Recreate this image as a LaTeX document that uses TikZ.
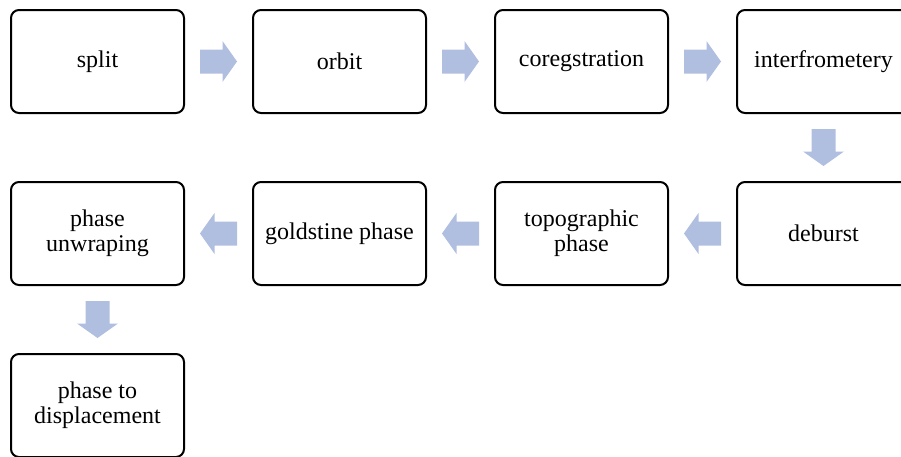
\documentclass[tikz,border=0pt]{standalone}
\usepackage{fontspec}
\setmainfont{Liberation Serif}
\usetikzlibrary{calc}
\definecolor{arrowfill}{RGB}{176,190,224}
\newcommand{\blockarrow}[2]{\fill[arrowfill, shift={#1}, rotate=#2] (-18.5,-12) -- (4,-12) -- (4,-20.5) -- (18.5,0) -- (4,20.5) -- (4,12) -- (-18.5,12) -- cycle;}
\begin{document}
\begin{tikzpicture}[x=0.75pt,y=-0.75pt,
  stepbox/.style={draw=black, line width=1.5pt, rounded corners=6pt, rectangle,
    minimum width=129.75pt, minimum height=77.25pt, inner sep=0pt, align=center,
    font=\fontsize{18}{19}\selectfont}]
\clip (0,0) rectangle (901,457);
\node[stepbox] (b1) at (97.5,61.5) {split};
\node[stepbox] (b2) at (339.5,61.5) {orbit};
\node[stepbox] (b3) at (581.5,61.5) {coregstration};
\node[stepbox] (b4) at (823.5,61.5) {interfrometery};
\node[stepbox] (b5) at (823.5,233.5) {deburst};
\node[stepbox] (b6) at (581.5,233.5) {topographic\\phase};
\node[stepbox] (b7) at (339.5,233.5) {goldstine phase};
\node[stepbox] (b8) at (97.5,233.5) {phase\\unwraping};
\node[stepbox] (b9) at (97.5,405.5) {phase to\\displacement};
\blockarrow{($(b1.east)!0.5!(b2.west)$)}{0}
\blockarrow{($(b2.east)!0.5!(b3.west)$)}{0}
\blockarrow{($(b3.east)!0.5!(b4.west)$)}{0}
\blockarrow{($(b4.south)!0.5!(b5.north)$)}{-90}
\blockarrow{($(b5.west)!0.5!(b6.east)$)}{180}
\blockarrow{($(b6.west)!0.5!(b7.east)$)}{180}
\blockarrow{($(b7.west)!0.5!(b8.east)$)}{180}
\blockarrow{($(b8.south)!0.5!(b9.north)$)}{-90}
\end{tikzpicture}
\end{document}
